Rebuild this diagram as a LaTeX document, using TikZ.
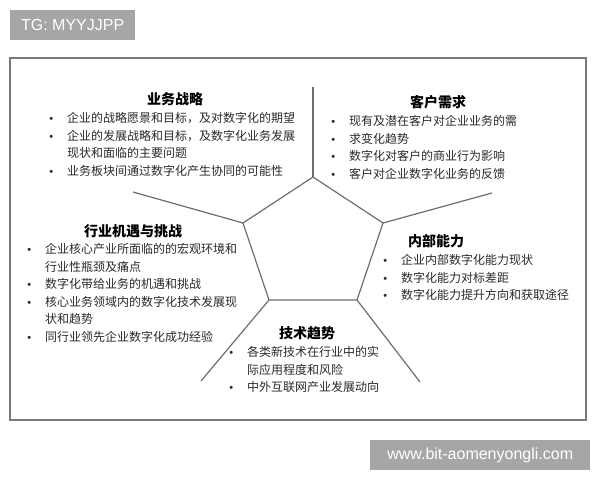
\documentclass[tikz,border=0pt]{standalone}
\usepackage{fontspec}
\newfontfamily\cjk{Noto Sans CJK SC}
\newfontfamily\latinsans{Liberation Sans}
\definecolor{linegray}{HTML}{6E6E6E}
\definecolor{framegray}{HTML}{7A7A7A}
\definecolor{textgray}{HTML}{2A2A2A}
\definecolor{tagbg}{HTML}{A6A6A6}
\newcommand{\blist}[1]{\begin{tabular}[t]{@{}p{18pt}@{}l@{}}#1\end{tabular}}
\newcommand{\itm}{\makebox[4pt]{\latinsans\fontsize{11}{11}\selectfont\textbullet} &}

\tikzset{
  title/.style={font=\cjk\bfseries\fontsize{14}{16}\selectfont, inner sep=0pt, text=black},
  items/.style={font=\cjk\fontsize{12}{17.5}\selectfont, inner sep=0pt, anchor=base west, text=textgray},
  tag/.style={fill=tagbg, text=white, font=\latinsans\fontsize{16}{18}\selectfont, inner sep=0pt, anchor=north west},
  edge/.style={draw=linegray, line width=1.2pt}
}

\begin{document}
\begin{tikzpicture}[x=1pt, y=-1pt]
  \useasboundingbox (0,0) rectangle (600,480);
  \fill[white] (0,0) rectangle (600,480);

  \draw[framegray, line width=1.5pt, fill=white] (10,58) rectangle (586,420);

  \coordinate (p1) at (313,177);
  \coordinate (p2) at (383,223);
  \coordinate (p3) at (357,300);
  \coordinate (p4) at (269,300);
  \coordinate (p5) at (243,223);

  \coordinate (r1) at (313,87);
  \coordinate (r2) at (492,193);
  \coordinate (r3) at (420,382);
  \coordinate (r4) at (201,381);
  \coordinate (r5) at (133,192);

  \draw[edge] (p1) -- (p2) -- (p3) -- (p4) -- (p5) -- cycle;
  \foreach \i in {1, 2, 3, 4, 5} {
    \draw[edge] (p\i) -- (r\i);
  }

  \node[title] (strategy) at (175,99) {业务战略};
  \node[items] (strategyitems) at (49,122.5) {\blist{
    \itm 企业的战略愿景和目标，及对数字化的期望\\
    \itm 企业的发展战略和目标，及数字化业务发展\\
    & 现状和面临的主要问题\\
    \itm 业务板块间通过数字化产生协同的可能性}};

  \node[title] (customer) at (438,102) {客户需求};
  \node[items] (customeritems) at (331,125.5) {\blist{
    \itm 现有及潜在客户对企业业务的需\\
    \itm 求变化趋势\\
    \itm 数字化对客户的商业行为影响\\
    \itm 客户对企业数字化业务的反馈}};

  \node[title] (capability) at (436,241) {内部能力};
  \node[items] (capabilityitems) at (383,264.5) {\blist{
    \itm 企业内部数字化能力现状\\
    \itm 数字化能力对标差距\\
    \itm 数字化能力提升方向和获取途径}};

  \node[title] (industry) at (133,231) {行业机遇与挑战};
  \node[items] (industryitems) at (27,253.5) {\blist{
    \itm 企业核心产业所面临的的宏观环境和\\
    & 行业性瓶颈及痛点\\
    \itm 数字化带给业务的机遇和挑战\\
    \itm 核心业务领域内的数字化技术发展现\\
    & 状和趋势\\
    \itm 同行业领先企业数字化成功经验}};

  \node[title] (tech) at (307,333) {技术趋势};
  \node[items] (techitems) at (229,356.5) {\blist{
    \itm 各类新技术在行业中的实\\
    & 际应用程度和风险\\
    \itm 中外互联网产业发展动向}};

  \node[tag, minimum width=125pt, minimum height=30pt] (tg) at (10,10) {TG: MYYJJPP};
  \node[tag, minimum width=220pt, minimum height=30pt] (site) at (370,440) {www.bit-aomenyongli.com};
\end{tikzpicture}
\end{document}
